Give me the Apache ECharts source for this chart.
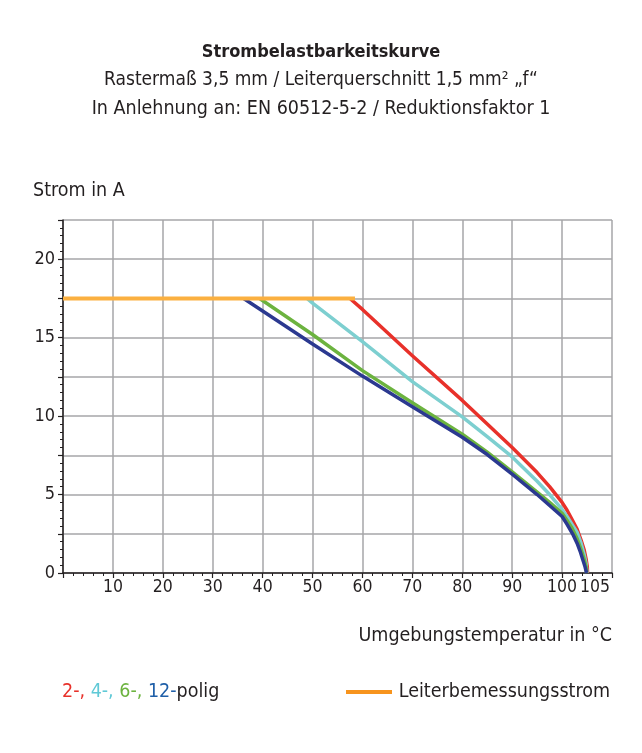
<!DOCTYPE html>
<html><head><meta charset="utf-8">
<script src="https://cdn.jsdelivr.net/npm/echarts@6/dist/echarts.min.js"></script>
<style>html,body{margin:0;padding:0;background:#fff}#c{width:642px;height:753px}</style>
</head><body><div id="c"></div>
<script>
const FONT = '"Liberation Sans Narrow","DejaVu Sans Condensed","Roboto Condensed",sans-serif';
const titleLines = ['Strombelastbarkeitskurve', 'Rastermaß 3,5 mm / Leiterquerschnitt 1,5 mm² „f“', 'In Anlehnung an: EN 60512-5-2 / Reduktionsfaktor 1'];
const seriesNames = ['2-polig', '4-polig', '6-polig', '12-polig', 'Leiterbemessungsstrom'];
const pole2  = [[57.5,17.5],[60,16.8],[70,13.85],[80,11.0],[85,9.5],[90,8.0],[95,6.4],[97.5,5.5],[100,4.5],[101,4.0],[102,3.4],[103,2.8],[103.8,2.1],[104.4,1.5],[104.8,0.9],[105.05,0.4],[105.1,0]];
const pole4  = [[48.9,17.5],[50,17.2],[60,14.75],[70,12.2],[80,9.95],[85,8.7],[90,7.4],[95,5.85],[97.5,5.0],[100,4.05],[101,3.6],[102,3.1],[103,2.6],[103.8,1.9],[104.4,1.2],[104.8,0.6],[105,0]];
const pole6  = [[39.4,17.5],[50,15.2],[60,12.9],[70,10.85],[80,8.85],[85,7.7],[90,6.45],[95,5.15],[97.5,4.5],[100,3.8],[101,3.35],[102,2.85],[103,2.2],[103.8,1.5],[104.4,0.9],[104.8,0.4],[104.9,0]];
const pole12 = [[36.2,17.5],[40,16.7],[50,14.6],[60,12.55],[70,10.6],[80,8.65],[85,7.55],[90,6.3],[95,5.0],[97.5,4.3],[100,3.6],[101,3.1],[102.1,2.5],[103,1.9],[103.6,1.4],[104.2,0.8],[104.6,0.4],[104.9,0]];
const rated  = [[0,17.5],[58.5,17.5]];
const xMax = 110, yMax = 22.5;
const xExtraLabel = 105;
const yLabelStep = 5;

const colors = {red:'#e8312a', cyan:'#7dcfd0', green:'#6cb33f', blue:'#2b3990', orange:'#fbb040', legendOrange:'#f7941d', text:'#231f20', grid:'#a6a6a8'};
const TXT = '19.5px ' + FONT;

const chart = echarts.init(document.getElementById('c'), null, {renderer:'canvas'});
const lineS = (name, data, color, w, z) => ({
  name, type:'line', data, xAxisIndex:0, yAxisIndex:0, showSymbol:false, symbol:'none',
  smooth:false, lineStyle:{color, width:w, join:'round', cap:'butt'}, z, silent:true, animation:false
});
chart.setOption({
  animation:false,
  textStyle:{fontFamily:FONT},
  grid:{left:63, right:30, top:220, bottom:180, containLabel:false},
  xAxis:[{
    type:'value', min:0, max:xMax, interval:10, position:'bottom',
    axisLine:{show:true, onZero:false, lineStyle:{color:colors.text, width:1.5}},
    axisTick:{show:true, length:5, lineStyle:{color:colors.text, width:1.2}},
    minorTick:{show:true, splitNumber:5, length:3, lineStyle:{color:colors.text, width:1}},
    splitLine:{show:true, lineStyle:{color:colors.grid, width:1.5}},
    axisLabel:{margin:5, fontSize:17.5, color:colors.text, fontFamily:FONT,
      formatter:v => (v===0 || v===xMax) ? '' : String(v)}
  },{
    type:'value', min:0, max:xMax, interval:xExtraLabel, position:'bottom',
    axisLine:{show:false}, axisTick:{show:false}, splitLine:{show:false},
    axisLabel:{margin:5, fontSize:17.5, color:colors.text, fontFamily:FONT, padding:[0,0,0,16],
      formatter:v => v===xExtraLabel ? String(v) : ''}
  }],
  yAxis:{
    type:'value', min:0, max:yMax, interval:2.5,
    axisLine:{show:true, lineStyle:{color:colors.text, width:1.5}},
    axisTick:{show:true, length:5, lineStyle:{color:colors.text, width:1.2}},
    minorTick:{show:true, splitNumber:5, length:3, lineStyle:{color:colors.text, width:1}},
    splitLine:{show:true, lineStyle:{color:colors.grid, width:1.5}},
    axisLabel:{margin:8, fontSize:18, color:colors.text, fontFamily:FONT,
      formatter:v => (Math.abs(v % yLabelStep) < 1e-9) ? String(v) : ''}
  },
  series:[
    lineS(seriesNames[0], pole2, colors.red, 3.5, 2),
    lineS(seriesNames[1], pole4, colors.cyan, 3.5, 3),
    lineS(seriesNames[2], pole6, colors.green, 3.5, 4),
    lineS(seriesNames[3], pole12, colors.blue, 3.5, 5),
    lineS(seriesNames[4], rated, colors.orange, 4, 6)
  ],
  graphic:[
    {type:'text', x:321, y:52, style:{text:titleLines[0], font:'bold 18px '+FONT, fill:colors.text, textAlign:'center', textVerticalAlign:'middle'}},
    {type:'text', x:321, y:80, style:{text:titleLines[1], font:'19px '+FONT, fill:colors.text, textAlign:'center', textVerticalAlign:'middle'}},
    {type:'text', x:321, y:109, style:{text:titleLines[2], font:'19.5px '+FONT, fill:colors.text, textAlign:'center', textVerticalAlign:'middle'}},
    {type:'text', x:33, y:191, style:{text:'Strom in A', font:TXT, fill:colors.text, textAlign:'left', textVerticalAlign:'middle'}},
    {type:'text', x:612, y:636, style:{text:'Umgebungstemperatur in °C', font:TXT, fill:colors.text, textAlign:'right', textVerticalAlign:'middle'}},
    {type:'text', x:62, y:692, style:{
      text:'{r|2-,} {c|4-,} {g|6-,} {b|12-}{k|polig}', textVerticalAlign:'middle', font:TXT,
      rich:{r:{fill:colors.red, font:TXT}, c:{fill:'#5fc9d6', font:TXT}, g:{fill:colors.green, font:TXT}, b:{fill:'#1f5fa8', font:TXT}, k:{fill:colors.text, font:TXT}}}},
    {type:'line', shape:{x1:346, y1:692, x2:392, y2:692}, style:{stroke:colors.legendOrange, lineWidth:4}},
    {type:'text', x:610, y:692, style:{text:seriesNames[4], font:TXT, fill:colors.text, textAlign:'right', textVerticalAlign:'middle'}}
  ]
});
</script></body></html>
